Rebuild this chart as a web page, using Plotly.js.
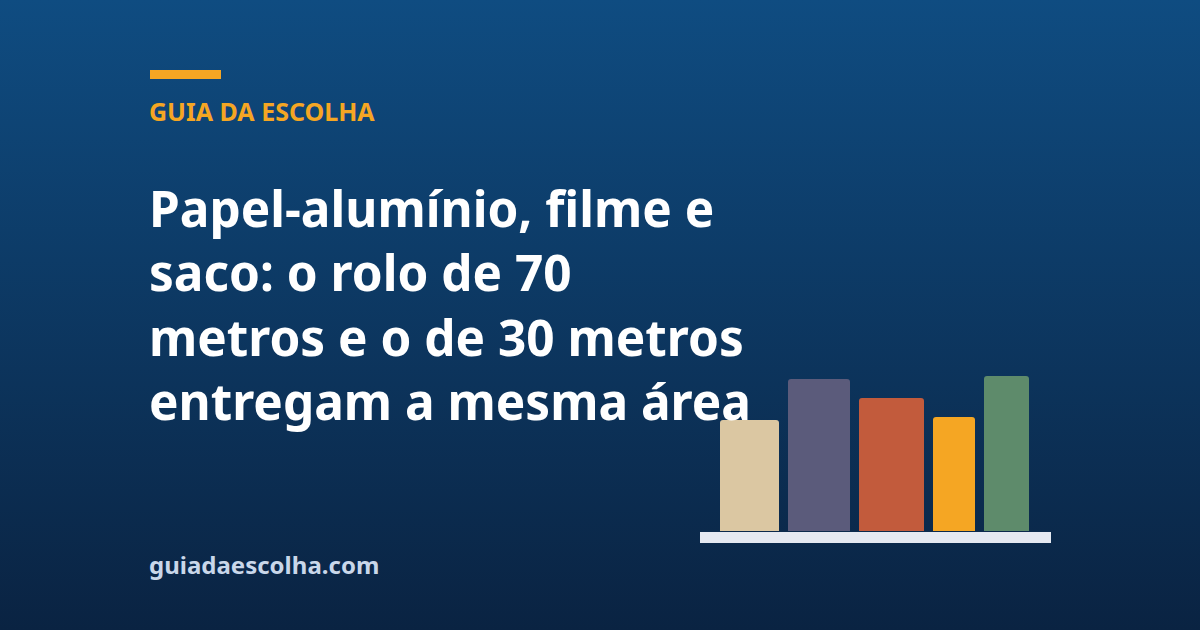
<!DOCTYPE html>
<html>
<head>
<meta charset="utf-8">
<script src="https://cdn.plot.ly/plotly-3.0.1.min.js"></script>
<style>
  html, body { margin: 0; padding: 0; }
  #chart {
    width: 1200px; height: 630px;
    background: linear-gradient(180deg, #0f4c81 0%, #0a2342 100%);
  }
</style>
</head>
<body>
<div id="chart"></div>
<script>
// decorative bars: heights and widths
const barHeights = [111, 152, 133, 114, 155];
const barWidths = [59, 62, 65, 42, 45];
const barColors = ['#dbc7a2', '#5b5b7b', '#c25b3c', '#f5a623', '#5e8b6b'];

const kicker = 'GUIA DA ESCOLHA';
const headline = 'Papel-alumínio, filme e<br>saco: o rolo de 70<br>metros e o de 30 metros<br>entregam a mesma área';
const site = 'guiadaescolha.com';

// lay bars side by side with a fixed gap
const gap = 9;
const x = [];
let left = 20;
for (const w of barWidths) {
  x.push(left + w / 2);
  left += w + gap;
}

const trace = {
  type: 'bar',
  x,
  y: barHeights,
  width: barWidths,
  marker: { color: barColors, line: { width: 0 } },
  hoverinfo: 'none'
};

const W = 1200, H = 630;
const font = '"Noto Sans", "Open Sans", sans-serif';

const layout = {
  width: W,
  height: H,
  margin: { l: 0, r: 0, t: 0, b: 0 },
  paper_bgcolor: 'rgba(0,0,0,0)',
  plot_bgcolor: 'rgba(0,0,0,0)',
  showlegend: false,
  barcornerradius: 3,
  xaxis: {
    domain: [700 / W, 1051 / W],
    range: [0, 351],
    visible: false,
    fixedrange: true
  },
  yaxis: {
    domain: [(H - 531) / H, (H - 376) / H],
    range: [0, 155],
    visible: false,
    fixedrange: true
  },
  shapes: [
    { type: 'rect', xref: 'paper', yref: 'paper',
      x0: 150 / W, x1: 221 / W, y0: (H - 79) / H, y1: (H - 70) / H,
      fillcolor: '#f5a623', line: { width: 0 } },
    { type: 'rect', xref: 'paper', yref: 'paper',
      x0: 700 / W, x1: 1051 / W, y0: (H - 543) / H, y1: (H - 532) / H,
      fillcolor: '#e5e9f1', line: { width: 0 } }
  ],
  annotations: [
    { text: kicker, xref: 'paper', yref: 'paper', x: 147 / W, y: (H - 92) / H,
      xanchor: 'left', yanchor: 'top', showarrow: false,
      font: { family: font, size: 25, color: '#f5a623', weight: 700 } },
    { text: headline, xref: 'paper', yref: 'paper', x: 147 / W, y: (H - 172) / H,
      xanchor: 'left', yanchor: 'top', align: 'left', showarrow: false,
      font: { family: font, size: 49.5, color: '#ffffff', weight: 700 } },
    { text: site, xref: 'paper', yref: 'paper', x: 147 / W, y: (H - 546) / H,
      xanchor: 'left', yanchor: 'top', showarrow: false,
      font: { family: font, size: 24, color: '#c9d7ea', weight: 700 } }
  ]
};

Plotly.newPlot('chart', [trace], layout, { displayModeBar: false, staticPlot: true });
</script>
</body>
</html>
